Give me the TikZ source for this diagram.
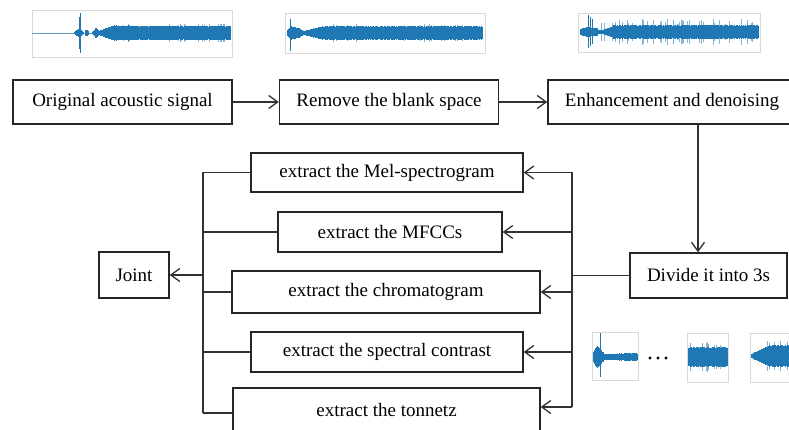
\documentclass[tikz,border=0pt]{standalone}
\usepackage{fontspec}
\setmainfont{Liberation Serif}
\usetikzlibrary{arrows.meta,calc}
\definecolor{wblue}{RGB}{31,119,180}
\definecolor{lncol}{RGB}{50,50,50}
\newcommand{\wseg}[5]{%
  \fill[wblue] (#1,#3-0.8*#4) -- (#2,#3-0.8*#5) -- (#2,#3+0.8*#5) -- (#1,#3+0.8*#4) -- cycle;
  \pgfmathtruncatemacro\wN{((#2)-(#1))/0.5}%
  \foreach \wi in {0,...,\wN}{%
    \pgfmathsetmacro\wx{#1+\wi*0.5}%
    \pgfmathsetmacro\wa{((#4)+((#5)-(#4))*\wi/max(\wN,1))*(0.85+0.17*rnd)}%
    \draw[wblue,line width=0.6pt] (\wx,#3-\wa) -- (\wx,#3+\wa);
  }}
\newcommand{\wspk}[3]{\draw[wblue,line width=0.7pt] (#1,#2) -- (#1,#3);}
\newcommand{\wnoise}[6]{% x0 x1 yc amin aextra count
  \foreach \wk in {1,...,#6}{%
    \pgfmathsetmacro\sx{#1+((#2)-(#1))*rnd}%
    \pgfmathsetmacro\sh{(#4)+(#5)*rnd}%
    \draw[wblue!55,line width=0.35pt] (\sx,#3-\sh) -- (\sx,#3+\sh);
  }}
\tikzset{
  box/.style={draw=black!85, line width=1.4pt, fill=white, inner sep=0pt,
    font=\fontsize{19}{22}\selectfont},
  conn/.style={draw=lncol, line width=1.4pt},
  arr/.style={draw=lncol, line width=1.4pt,
    -{Straight Barb[length=9pt,width=13pt,line width=1.3pt]}},
  wframe/.style={draw=gray!30, line width=0.4pt},
}
\begin{document}
\begin{tikzpicture}[x=1pt,y=-1pt]
\useasboundingbox (0,0) rectangle (789,430);
\fill[white] (0,0) rectangle (789,430);
\clip (0,0) rectangle (789,430);
\pgfmathsetseed{3}

% ---- top waveform 1 ----
\draw[wframe] (32,10) rectangle (232,57);
\draw[wblue!70,line width=0.8pt] (32,33) -- (230,33);
\wnoise{120}{228}{33}{7}{2.5}{20}
\wseg{74}{79}{33}{0.5}{5}
\wseg{79}{83}{33}{5}{1}
\wspk{80}{13}{53}
\wspk{79.3}{17}{49}
\wseg{85}{88}{33}{3}{2.5}
\wseg{92}{96}{33}{1}{5}
\wseg{96}{99}{33}{5}{2}
\wseg{99}{112}{33}{2}{7.5}
\wseg{112}{230}{33}{7.5}{7}

% ---- top waveform 2 ----
\draw[wframe] (285,13) rectangle (485,53);
\wnoise{330}{480}{33}{7}{2}{20}
\wseg{287}{291}{33}{3}{7}
\wspk{290}{19}{51}
\wseg{291}{300}{33}{7}{5}
\wseg{300}{304}{33}{4}{2}
\wseg{304}{322}{33}{2}{7}
\wseg{322}{482}{33}{7}{7}

% ---- top waveform 3 ----
\draw[wframe] (578,13) rectangle (760,52);
\wnoise{600}{758}{32}{8}{5}{40}
\wseg{580}{586}{32}{3}{5}
\wspk{588}{15}{48}
\wspk{590.5}{17}{46}
\wspk{592.5}{19}{44}
\wseg{586}{597}{32}{5}{4}
\wseg{597}{601}{32}{3}{1.5}
\wseg{601}{615}{32}{1.5}{7}
\wseg{615}{758}{32}{7}{7}

% ---- small waveforms ----
\draw[wframe] (592,332) rectangle (638,380);
\wseg{593}{597}{357}{4}{12}
\wspk{600}{333}{377}
\wseg{597}{603}{357}{12}{5}
\wseg{603}{637}{357}{3}{4}
\fill[black] (650,358) circle (1.6pt);
\fill[black] (658,358) circle (1.6pt);
\fill[black] (666,358) circle (1.6pt);
\draw[wframe] (687,333) rectangle (728,382);
\wnoise{688}{727}{357}{11}{4}{10}
\wseg{688}{727}{357}{10}{10}
\draw[wframe] (750,333) rectangle (800,382);
\wnoise{765}{789}{356}{11}{4}{6}
\wseg{751}{770}{356}{2}{11}
\wseg{770}{789}{356}{11}{11}

% ---- nodes ----
\node[box, minimum width=219pt, minimum height=44pt] (orig) at (122.5,102) {Original acoustic signal};
\node[box, minimum width=219pt, minimum height=44pt] (blank) at (389,102) {Remove the blank space};
\node[box, minimum width=248pt, minimum height=44pt] (enh) at (672,102) {Enhancement and denoising};
\node[box, minimum width=157pt, minimum height=45pt] (div) at (708.5,275.5) {Divide it into 3s};
\node[box, minimum width=70pt, minimum height=46pt] (joint) at (134,275) {Joint};
\node[box, minimum width=272pt, minimum height=39pt] (mel) at (387,172.5) {extract the Mel-spectrogram};
\node[box, minimum width=224pt, minimum height=40pt] (mfcc) at (390,232) {extract the MFCCs};
\node[box, minimum width=308pt, minimum height=42pt] (chroma) at (386,292) {extract the chromatogram};
\node[box, minimum width=272pt, minimum height=40pt] (spec) at (387,352) {extract the spectral contrast};
\node[box, minimum width=307pt, minimum height=44pt] (tonn) at (386.5,410) {extract the tonnetz};

\coordinate (rb) at (572,0);
\coordinate (lb) at (203,0);
\coordinate (dv) at (698,0);

% ---- connectors ----
\draw[arr] (orig) -- (blank);
\draw[arr] (blank) -- (enh);
\draw[arr] (enh.south -| dv) -- (div.north -| dv);
\draw[conn] (div.west) -- (div.west -| rb);
\draw[conn] (mel.east -| rb) -- ($(tonn.east -| rb)+(0,-3)$);
\draw[arr] (mel.east -| rb) -- (mel.east);
\draw[arr] (mfcc.east -| rb) -- (mfcc.east);
\draw[arr] (chroma.east -| rb) -- (chroma.east);
\draw[arr] (spec.east -| rb) -- (spec.east);
\draw[arr] ($(tonn.east -| rb)+(0,-3)$) -- ($(tonn.east)+(0,-3)$);
\draw[conn] (mel.west -| lb) -- ($(tonn.west -| lb)+(0,3)$);
\draw[conn] (mel.west) -- (mel.west -| lb);
\draw[conn] (mfcc.west) -- (mfcc.west -| lb);
\draw[conn] (chroma.west) -- (chroma.west -| lb);
\draw[conn] (spec.west) -- (spec.west -| lb);
\draw[conn] ($(tonn.west)+(0,3)$) -- ($(tonn.west -| lb)+(0,3)$);
\draw[arr] (joint.east -| lb) -- (joint.east);
\end{tikzpicture}
\end{document}
